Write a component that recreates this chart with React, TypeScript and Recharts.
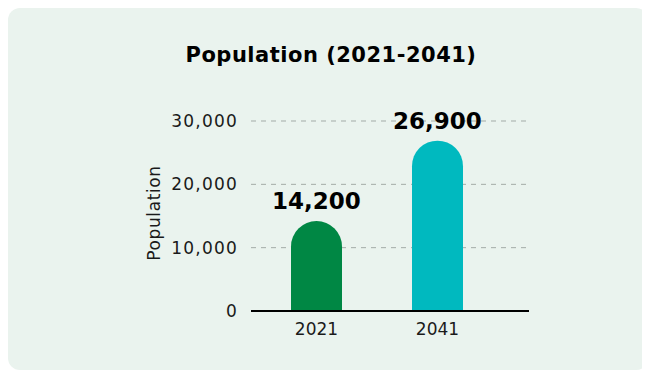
import React from "react";
import { BarChart, Bar, XAxis, YAxis, CartesianGrid, Cell, LabelList } from "recharts";

const years = ["2021", "2041"];
const population = [14200, 26900];
const barColors = ["#008744", "#00b9bf"];
const yTicks = [0, 10000, 20000, 30000];

const data = years.map((year, i) => ({ year, population: population[i] }));

const fmt = (v: number) => v.toLocaleString("en-US");
const font = "'DejaVu Sans', sans-serif";

export default function App() {
  return (
    <div
      style={{
        position: "relative",
        width: 640,
        height: 362,
        background: "#eaf3ee",
        borderRadius: 12,
        fontFamily: font,
      }}
    >
      <div
        style={{
          position: "absolute",
          top: 35,
          left: 0,
          width: 646,
          textAlign: "center",
          fontSize: 21,
          fontWeight: 700,
          letterSpacing: 0.5,
          color: "#000",
        }}
      >
        Population (2021-2041)
      </div>
      <BarChart
        width={640}
        height={362}
        data={data}
        margin={{ top: 113, right: 119, left: 0, bottom: 29 }}
      >
        <CartesianGrid vertical={false} strokeDasharray="5 5" stroke="#a3aba7" />
        <XAxis
          dataKey="year"
          height={30}
          padding={{ left: 5, right: 31 }}
          axisLine={{ stroke: "#000", strokeWidth: 2 }}
          tickLine={false}
          tickSize={0}
          tickMargin={12}
          tick={{ fill: "#1a1a1a", fontSize: 17, fontFamily: font }}
        />
        <YAxis
          width={243}
          domain={[0, 30000]}
          ticks={yTicks}
          tickFormatter={fmt}
          axisLine={false}
          tickLine={false}
          tickSize={0}
          tickMargin={13}
          tick={{ fill: "#1a1a1a", fontSize: 17, letterSpacing: 1.2, fontFamily: font }}
        />
        <Bar dataKey="population" barSize={51} radius={[26, 26, 0, 0]} isAnimationActive={false}>
          {data.map((d, i) => (
            <Cell key={d.year} fill={barColors[i]} />
          ))}
          <LabelList
            dataKey="population"
            position="top"
            offset={12}
            formatter={(v: any) => fmt(Number(v))}
            style={{ fill: "#000", fontSize: 23, fontWeight: 700, fontFamily: font }}
          />
        </Bar>
        <text
          x={146}
          y={205}
          transform="rotate(-90 146 205)"
          textAnchor="middle"
          dominantBaseline="central"
          fill="#1a1a1a"
          fontSize={17}
          letterSpacing={0.6}
          fontFamily={font}
        >
          Population
        </text>
      </BarChart>
    </div>
  );
}
